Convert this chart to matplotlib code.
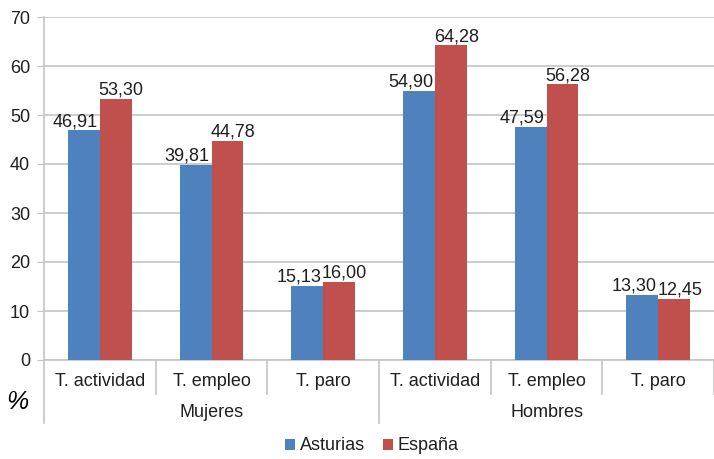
import numpy as np
import matplotlib
matplotlib.use('Agg')
import matplotlib.pyplot as plt
import matplotlib.transforms as mtransforms

plt.rcParams['font.family'] = ['Liberation Sans', 'DejaVu Sans']

categorias = ['T. actividad', 'T. empleo', 'T. paro', 'T. actividad', 'T. empleo', 'T. paro']
grupos = ['Mujeres', 'Hombres']
asturias = [46.91, 39.81, 15.13, 54.90, 47.59, 13.30]
espana = [53.30, 44.78, 16.00, 64.28, 56.28, 12.45]

azul = '#4F81BD'
rojo = '#C0504D'
gris = '#C4C4C4'
texto = '#1f1f1f'

fig = plt.figure(figsize=(7.14, 4.59), dpi=100)
ax = fig.add_axes([44 / 714, 99 / 459, 670 / 714, 343 / 459])

x = np.arange(len(categorias))
ancho = 0.285
ax.bar(x - ancho / 2, asturias, ancho, color=azul, label='Asturias', zorder=3)
ax.bar(x + ancho / 2, espana, ancho, color=rojo, label='España', zorder=3)

def fmt(v):
    return f'{v:.2f}'.replace('.', ',')

# etiquetas de datos (algo desplazadas hacia fuera como en el original)
for xi, v in zip(x, asturias):
    ax.annotate(fmt(v), (xi - ancho / 2, v), xytext=(-6, 0), textcoords='offset points',
                ha='center', va='bottom', fontsize=13, color=texto, annotation_clip=False)
for xi, v in zip(x, espana):
    ax.annotate(fmt(v), (xi + ancho / 2, v), xytext=(4, 0), textcoords='offset points',
                ha='center', va='bottom', fontsize=13, color=texto, annotation_clip=False)

ax.set_xlim(-0.5, len(categorias) - 0.5)
ax.set_ylim(0, 70)
ax.set_yticks(np.arange(0, 71, 10))
ax.yaxis.grid(True, color=gris, linewidth=1.2, zorder=0)
ax.set_axisbelow(True)
ax.tick_params(axis='y', length=5, color=gris, labelsize=13, labelcolor=texto, pad=5)
ax.tick_params(axis='x', length=0)
ax.set_xticks([])
for s in ['top', 'right']:
    ax.spines[s].set_visible(False)
for s in ['left', 'bottom']:
    ax.spines[s].set_color(gris)
    ax.spines[s].set_linewidth(1.2)

# etiquetas de dos niveles
trans = mtransforms.blended_transform_factory(ax.transData, ax.transAxes)
for xi, cat in zip(x, categorias):
    ax.text(xi, -0.063, cat, transform=trans, ha='center', va='center',
            fontsize=13, color=texto)
for i, g in enumerate(grupos):
    ax.text(1 + 3 * i, -0.152, g, transform=trans, ha='center', va='center',
            fontsize=13, color=texto)

for b in np.arange(-0.5, len(categorias), 1.0):
    if b in (-0.5, 2.5):
        y_fin = -0.185
    else:
        y_fin = -0.1
    ax.plot([b, b], [0, y_fin], transform=trans, color=gris, linewidth=1.2, clip_on=False)

fig.text(17 / 714, 1 - 402 / 459, '%', ha='center', va='center', fontsize=18,
         style='italic', color='black')

ax.legend(loc='center', bbox_to_anchor=(372 / 714, 13 / 459), bbox_transform=fig.transFigure,
          ncol=2, frameon=False, fontsize=13, handlelength=0.55, handleheight=0.55,
          handletextpad=0.25, columnspacing=1.0, labelcolor=texto)

fig.savefig('out.png', dpi=100)
